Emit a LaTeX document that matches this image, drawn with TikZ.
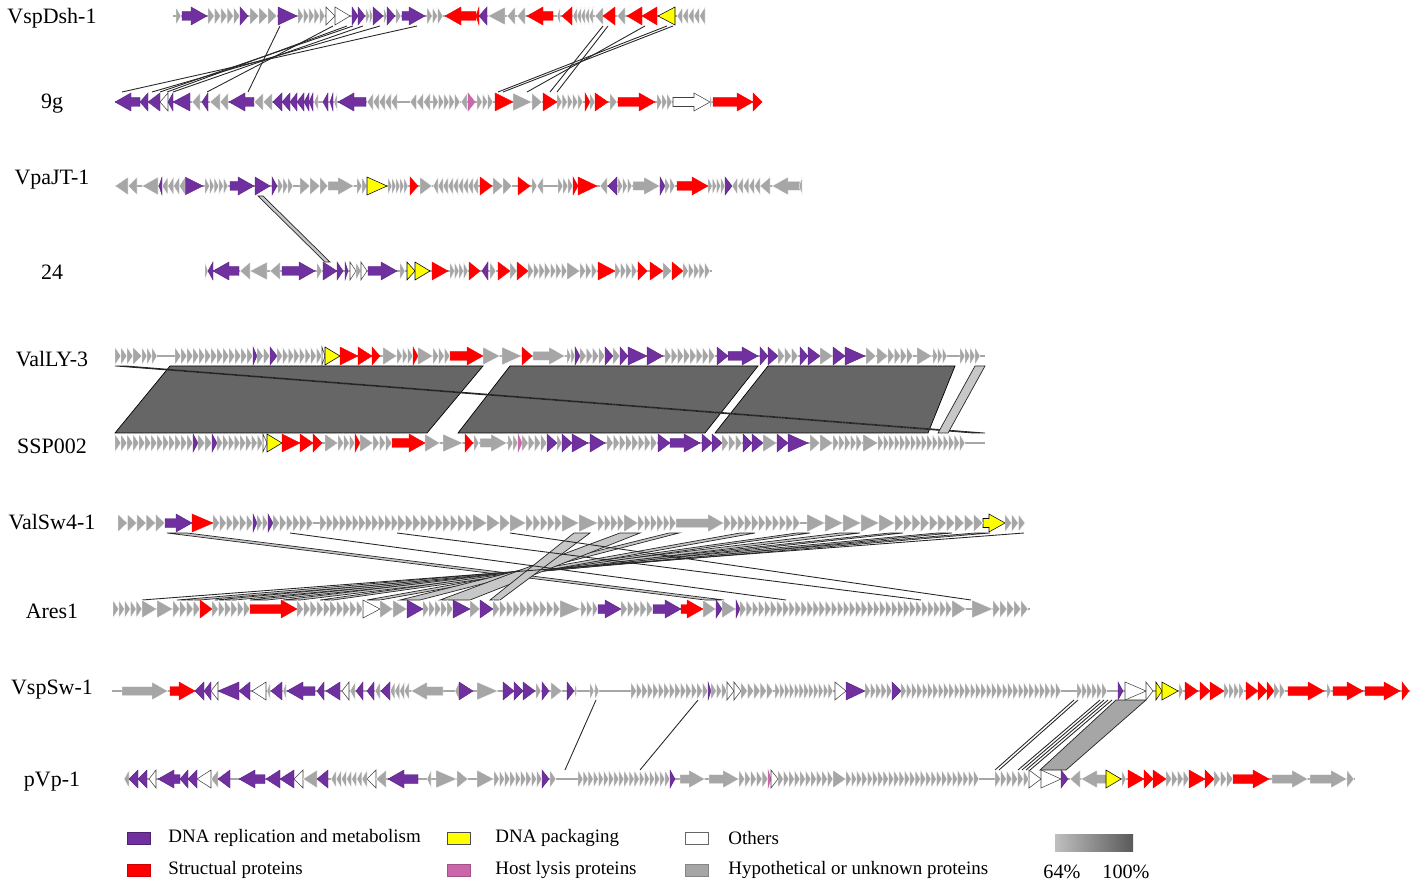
\documentclass[tikz,border=0pt]{standalone}
\usepackage{fontspec}
\setmainfont{Liberation Serif}
\definecolor{hypgray}{RGB}{166,166,166}
\definecolor{replpurple}{RGB}{112,48,160}
\definecolor{strucred}{RGB}{255,0,0}
\definecolor{packyellow}{RGB}{255,255,0}
\definecolor{lysispink}{RGB}{204,102,170}
\tikzset{
  hypo/.style={fill=hypgray, draw=white, line width=0.25pt},
  repl/.style={fill=replpurple, draw=replpurple!80!black, line width=0.25pt},
  struc/.style={fill=strucred, draw=strucred, line width=0.25pt},
  pack/.style={fill=packyellow, draw=black, line width=0.3pt},
  other/.style={fill=white, draw=black!75, line width=0.3pt},
  lysis/.style={fill=lysispink, draw=lysispink, line width=0.25pt},
  backbone/.style={draw=hypgray, line width=0.8pt},
  hit/.style={draw=black!85, line width=0.5pt},
  hitband/.style={fill=black!22, draw=black!85, line width=0.4pt},
  darkband/.style={fill=black!60, draw=black, line width=0.4pt},
  phage/.style={font=\fontsize{12.5}{14}\selectfont},
  legbox/.style={minimum width=0.46cm, minimum height=0.24cm, inner sep=0pt, line width=0.5pt},
  legtext/.style={anchor=west, inner sep=0pt, font=\fontsize{10.8}{12}\selectfont},
}
\newcommand{\gene}[4]{%
  \pgfmathsetmacro{\gxa}{#2}%
  \pgfmathsetmacro{\gxb}{#3}%
  \pgfmathsetmacro{\glen}{\gxb-\gxa}%
  \pgfmathsetmacro{\ghd}{abs(\glen)<22 ? \glen : 16*(\glen)/abs(\glen)}%
  \pgfmathsetmacro{\gxc}{\gxb-(\ghd)}%
  \path[#4] (\gxa,#1-4.5) -- (\gxc,#1-4.5) -- (\gxc,#1-9) -- (\gxb,#1)
    -- (\gxc,#1+9) -- (\gxc,#1+4.5) -- (\gxa,#1+4.5) -- cycle;}
\newcommand{\grun}[4]{%
  \foreach \gk in {1,...,#4}{%
    \gene{#1}{#2+(\gk-1)*(#3-#2)/#4}{#2+\gk*(#3-#2)/#4}{hypo}}}
\begin{document}
\begin{tikzpicture}[x=0.02cm, y=-0.02cm]
\useasboundingbox (0,0) rectangle (1417,888);

\node[phage] (vspdsh) at (52,18) {VspDsh-1};
\node[phage] (nineg) at (52,104) {9g};
\node[phage] (vpajt) at (52,180) {VpaJT-1};
\node[phage] (twentyfour) at (52,272) {24};
\node[phage] (vally) at (52,359) {ValLY-3};
\node[phage] (ssp) at (52,446) {SSP002};
\node[phage] (valsw) at (52,522) {ValSw4-1};
\node[phage] (ares) at (52,611) {Ares1};
\node[phage] (vspsw) at (52,690) {VspSw-1};
\node[phage] (pvp) at (52,782) {pVp-1};

\foreach \t/\b in {280/248, 417/122, 380/152, 363/173, 353/160, 347/167, 333/207,
  603/550, 608/557, 645/527, 667/498, 673/503}
  \draw[hit] (\t,26) -- (\b,92);
\path[hitband] (258,196) -- (263,196) -- (330,262) -- (325,262) -- cycle;
\foreach \ta/\tb/\ba/\bb in {170/483/115/427, 510/758/458/705, 768/955/715/928}
  \path[darkband] (\ta,366) -- (\tb,366) -- (\bb,433) -- (\ba,433) -- cycle;
\foreach \ta/\tb/\ba/\bb in {115/127/972/985, 975/985/938/948}
  \path[hitband] (\ta,366) -- (\tb,366) -- (\bb,433) -- (\ba,433) -- cycle;
\foreach \ta/\tb/\ba/\bb in {167/187/705/724, 975/990/177/200, 937/952/215/235,
  890/903/250/267, 840/860/283/300, 797/810/320/333, 740/755/367/380,
  669/679/400/420, 620/640/440/470, 574/590/490/500}
  \path[hitband] (\ta,533) -- (\tb,533) -- (\bb,600) -- (\ba,600) -- cycle;
\foreach \t/\b in {290/786, 397/921, 510/971, 1024/142}
  \draw[hit] (\t,533) -- (\b,600);
\foreach \t/\b in {596/565, 698/640, 1074/995, 1078/999, 1100/1018, 1104/1022,
  1108/1026, 1112/1030}
  \draw[hit] (\t,700) -- (\b,770);
\path[hitband, fill=hypgray] (1116,700) -- (1146,700) -- (1066,770) -- (1040,770) -- cycle;

\foreach \y/\a/\b in {16/173/705, 102/115/762, 186/115/802, 271/205/712, 356/115/985,
  443/115/985, 523/118/1025, 609/113/1030, 691/112/1410, 779/124/1355}
  \draw[backbone] (\a,\y) -- (\b,\y);

\foreach \a/\b/\s in {176/181/hypo, 182/207/repl, 240/248/repl, 278/297/repl,
  326/335/other, 335/350/other, 352/358/repl, 358/365/repl, 373/383/repl,
  384/387/hypo, 387/395/repl, 396/401/hypo, 402/425/repl, 476/445/struc,
  479/476/struc, 487/479/repl, 505/488/hypo, 515/507/hypo, 525/517/hypo,
  553/527/struc, 560/557/hypo, 572/562/struc, 603/595/hypo, 615/603/struc,
  625/617/hypo, 642/627/struc, 657/642/struc, 675/658/pack}
  {\gene{16}{\a}{\b}{\s}}
\foreach \a/\b/\n in {208/240/5, 250/277/3, 298/325/5, 366/373/2, 427/443/3,
  593/573/5, 705/677/5}
  {\grun{16}{\a}{\b}{\n}}

\foreach \a/\b/\s in {140/115/repl, 148/140/repl, 160/148/repl, 168/160/other,
  173/168/repl, 190/173/repl, 200/192/hypo, 208/202/repl, 220/210/hypo,
  228/220/hypo, 254/229/repl, 263/254/hypo, 272/263/hypo, 282/273/repl,
  290/282/repl, 297/290/repl, 304/297/repl, 309/304/repl, 313/309/repl,
  318/314/hypo, 328/323/repl, 333/330/repl, 337/334/hypo, 366/338/repl,
  467/461/hypo, 468/475/lysis, 495/513/struc, 513/532/hypo, 532/542/hypo,
  543/557/struc, 585/590/struc, 590/595/hypo, 595/608/struc, 610/617/hypo,
  618/655/struc, 673/710/other, 710/712/hypo, 713/753/struc, 753/762/struc}
  {\gene{102}{\a}{\b}{\s}}
\foreach \a/\b/\n in {397/367/5, 430/410/3, 433/460/5, 477/493/3, 557/583/5,
  657/672/3}
  {\grun{102}{\a}{\b}{\n}}

\foreach \a/\b/\s in {128/115/hypo, 137/128/hypo, 158/142/hypo, 162/159/repl,
  185/203/repl, 230/254/repl, 255/270/repl, 272/277/repl, 300/310/hypo,
  310/320/hypo, 320/328/hypo, 328/354/hypo, 357/362/hypo, 362/367/hypo,
  367/387/pack, 410/418/struc, 420/432/hypo, 480/492/struc, 493/503/hypo,
  503/512/hypo, 518/530/struc, 532/537/hypo, 543/537/hypo, 573/578/struc,
  578/597/struc, 607/600/hypo, 617/608/repl, 633/660/hypo, 660/665/repl,
  677/708/struc, 725/732/repl, 770/760/hypo, 800/772/hypo, 802/799/hypo}
  {\gene{186}{\a}{\b}{\s}}
\foreach \a/\b/\n in {185/162/4, 205/228/5, 278/293/3, 388/408/5, 478/433/9,
  558/573/3, 618/632/3, 665/675/2, 708/725/4, 760/732/5}
  {\grun{186}{\a}{\b}{\n}}

\foreach \a/\b/\s in {205/208/hypo, 213/208/repl, 239/213/repl, 250/240/hypo,
  267/250/hypo, 280/270/hypo, 282/315/repl, 317/322/hypo, 323/337/repl,
  337/343/repl, 345/348/repl, 350/356/other, 356/361/hypo, 361/367/other,
  368/397/repl, 400/405/hypo, 407/415/pack, 415/430/pack, 432/448/struc,
  469/480/struc, 488/482/repl, 490/496/hypo, 498/510/struc, 510/517/hypo,
  517/528/struc, 567/580/hypo, 598/615/struc, 638/647/struc, 650/663/struc,
  663/672/hypo, 672/683/struc}
  {\gene{271}{\a}{\b}{\s}}
\foreach \a/\b/\n in {450/468/4, 528/567/7, 580/597/3, 615/637/4, 683/710/5}
  {\grun{271}{\a}{\b}{\n}}

\foreach \a/\b/\s in {133/142/hypo, 253/257/repl, 270/277/repl, 322/325/other,
  325/340/pack, 340/358/struc, 358/372/struc, 372/380/struc, 383/397/hypo,
  413/418/struc, 418/433/hypo, 450/483/struc, 483/500/hypo, 502/522/hypo,
  522/532/struc, 533/565/hypo, 575/580/repl, 605/613/repl, 613/620/hypo,
  620/628/repl, 628/647/repl, 647/663/repl, 717/728/repl, 728/758/repl,
  760/768/repl, 768/778/repl, 800/808/repl, 808/820/repl, 820/833/hypo,
  833/845/repl, 845/865/repl, 866/876/hypo, 877/888/hypo, 917/932/hypo}
  {\gene{356}{\a}{\b}{\s}}
\foreach \a/\b/\n in {115/133/3, 142/157/3, 175/253/13, 257/270/2, 277/322/8,
  397/413/3, 433/450/3, 567/575/2, 580/605/4, 665/715/8, 778/798/3,
  888/913/4, 933/947/3, 960/980/4}
  {\grun{356}{\a}{\b}{\n}}

\foreach \a/\b/\s in {193/198/repl, 212/217/repl, 263/267/other, 267/282/pack,
  282/300/struc, 300/313/struc, 313/322/struc, 325/338/hypo, 355/360/struc,
  360/373/hypo, 392/425/struc, 425/440/hypo, 443/463/hypo, 465/473/struc,
  474/479/hypo, 480/507/hypo, 518/522/lysis, 547/557/repl, 557/562/hypo,
  562/572/repl, 572/588/repl, 590/605/repl, 658/670/repl, 670/700/repl,
  702/712/repl, 712/722/repl, 743/752/repl, 752/763/repl, 763/777/hypo,
  777/788/repl, 788/808/repl, 810/820/hypo, 820/833/hypo, 863/878/hypo}
  {\gene{443}{\a}{\b}{\s}}
\foreach \a/\b/\n in {115/193/13, 198/212/2, 217/263/8, 338/355/3, 373/392/3,
  508/518/2, 522/547/4, 607/657/8, 722/742/3, 833/862/5, 878/965/16}
  {\grun{443}{\a}{\b}{\n}}

\foreach \a/\b/\s in {165/192/repl, 192/213/struc, 253/257/repl, 268/273/repl,
  473/487/hypo, 487/500/hypo, 500/510/hypo, 510/526/hypo, 562/579/hypo,
  579/598/hypo, 624/638/hypo, 676/724/hypo, 879/895/hypo, 983/1005/pack}
  {\gene{523}{\a}{\b}{\s}}
\foreach \a/\b/\n in {118/165/5, 213/253/6, 257/268/2, 273/313/6, 320/398/12,
  398/473/10, 526/562/5, 598/624/4, 638/676/6, 724/800/11, 807/879/4,
  895/955/7, 955/983/3, 1005/1025/3}
  {\grun{523}{\a}{\b}{\n}}

\foreach \a/\b/\s in {142/157/hypo, 157/173/hypo, 200/212/struc, 250/297/struc,
  363/380/other, 380/393/hypo, 393/407/hypo, 407/423/repl, 453/470/repl,
  470/480/hypo, 480/493/repl, 560/581/hypo, 598/621/repl, 653/681/repl,
  681/703/struc, 703/716/hypo, 716/722/repl, 722/736/hypo, 736/740/repl,
  952/966/hypo, 972/993/hypo}
  {\gene{609}{\a}{\b}{\s}}
\foreach \a/\b/\n in {113/142/5, 173/200/4, 212/250/6, 297/363/10, 423/453/5,
  493/560/10, 581/598/3, 621/653/5, 740/783/7, 783/952/28, 993/1028/5}
  {\grun{609}{\a}{\b}{\n}}

\foreach \a/\b/\s in {122/168/hypo, 170/195/struc, 204/195/repl, 211/204/repl,
  218/211/other, 239/218/repl, 250/239/repl, 266/252/other, 270/267/hypo,
  282/271/repl, 286/283/hypo, 315/287/repl, 324/317/repl, 340/326/repl,
  349/342/other, 355/350/hypo, 363/356/repl, 374/367/repl, 380/375/hypo,
  390/381/repl, 443/411/hypo, 459/455/hypo, 459/473/repl, 477/498/hypo,
  503/514/repl, 514/523/repl, 523/535/repl, 536/541/hypo, 542/549/repl,
  551/562/hypo, 567/574/repl, 575/577/hypo, 590/594/hypo, 595/599/hypo,
  708/711/repl, 727/734/other, 734/741/other, 835/846/other, 846/865/repl,
  892/901/repl, 1118/1123/repl, 1125/1146/other, 1146/1153/other,
  1156/1162/pack, 1162/1178/pack, 1179/1183/hypo, 1185/1198/struc,
  1200/1210/struc, 1210/1224/struc, 1246/1258/struc, 1258/1267/struc,
  1267/1274/struc, 1288/1324/struc, 1327/1331/hypo, 1333/1363/struc,
  1365/1400/struc, 1402/1409/struc}
  {\gene{691}{\a}{\b}{\s}}
\foreach \a/\b/\n in {409/390/4, 631/708/14, 711/727/3, 741/773/5, 775/833/12,
  865/892/5, 901/1061/30, 1077/1107/6, 1224/1244/4, 1274/1285/2}
  {\grun{691}{\a}{\b}{\n}}

\foreach \a/\b/\s in {129/124/hypo, 138/129/repl, 147/138/repl, 156/149/other,
  180/158/repl, 188/180/repl, 197/188/repl, 211/197/other, 218/211/hypo,
  230/218/repl, 265/239/repl, 280/266/repl, 294/280/repl, 303/294/other,
  317/303/hypo, 328/317/repl, 376/367/other, 386/376/hypo, 418/388/repl,
  431/427/hypo, 436/457/hypo, 457/468/hypo, 477/494/hypo, 542/549/repl,
  550/556/hypo, 670/675/repl, 680/705/hypo, 709/739/hypo, 768/771/lysis,
  771/778/other, 833/846/hypo, 1029/1041/other, 1041/1061/other,
  1061/1068/repl, 1080/1070/hypo, 1106/1081/hypo, 1106/1121/pack,
  1122/1126/hypo, 1128/1144/struc, 1144/1153/struc, 1153/1166/struc,
  1189/1205/struc, 1205/1214/struc, 1233/1269/struc, 1272/1308/hypo,
  1310/1347/hypo, 1347/1354/hypo}
  {\gene{779}{\a}{\b}{\s}}
\foreach \a/\b/\n in {367/331/7, 494/542/9, 578/670/18, 739/768/5, 778/833/10,
  846/979/25, 995/1029/6, 1166/1189/4, 1214/1233/3}
  {\grun{779}{\a}{\b}{\n}}

\node[legbox, fill=replpurple, draw=replpurple!70!black] (lgrepl) at (138.5,838) {};
\node[legtext] (ltrepl) at (168,838) {DNA replication and metabolism};
\node[legbox, fill=packyellow, draw=black!70] (lgpack) at (459,838) {};
\node[legtext] (ltpack) at (495,838) {DNA packaging};
\node[legbox, fill=white, draw=black!60] (lgother) at (696.5,838) {};
\node[legtext] (ltother) at (728,838) {Others};
\node[legbox, fill=strucred, draw=strucred!80!black] (lgstruc) at (138.5,870) {};
\node[legtext] (ltstruc) at (168,870) {Structual proteins};
\node[legbox, fill=lysispink, draw=lysispink!80!black] (lglysis) at (459,870) {};
\node[legtext] (ltlysis) at (495,870) {Host lysis proteins};
\node[legbox, fill=hypgray, draw=hypgray!80!black] (lghypo) at (696.5,870) {};
\node[legtext] (lthypo) at (728,870) {Hypothetical or unknown proteins};
\node[minimum width=1.56cm, minimum height=0.34cm, inner sep=0pt,
  left color=black!25, right color=black!65] (scale) at (1094,843) {};
\node[legtext, anchor=center, font=\fontsize{11.5}{13}\selectfont] (lowpc) at (1062,872) {64\%};
\node[legtext, anchor=center, font=\fontsize{11.5}{13}\selectfont] (highpc) at (1126,872) {100\%};
\end{tikzpicture}
\end{document}
